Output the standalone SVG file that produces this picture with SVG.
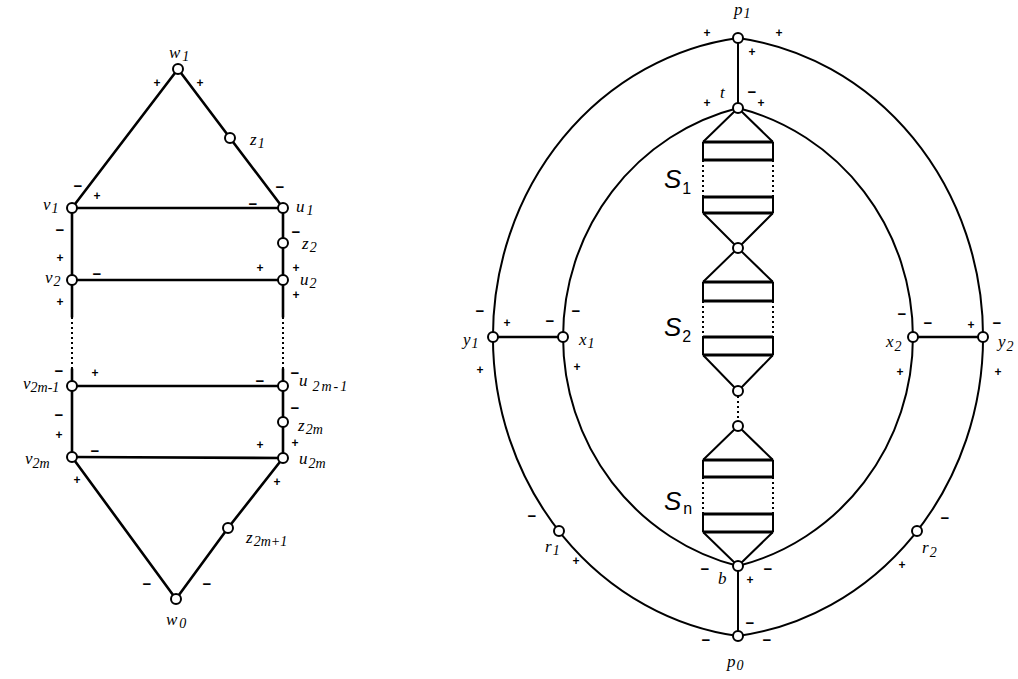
<svg xmlns="http://www.w3.org/2000/svg" width="1018" height="679" viewBox="0 0 1018 679">
<style>
.e{stroke:#000;stroke-width:2.6;fill:none;stroke-linecap:round}
.er{stroke:#000;stroke-width:2;fill:none}
.hb{stroke:#000;stroke-width:2.8;fill:none}
.dt{stroke:#000;stroke-width:2;fill:none;stroke-dasharray:2 3}
.n{fill:#fff;stroke:#000;stroke-width:2}
.l{font-family:"Liberation Serif",serif;font-style:italic;font-size:17px;fill:#000}
.sb{font-size:14px}
.S{font-family:"Liberation Sans",sans-serif;font-style:italic;font-size:26px;fill:#000}
.Ss{font-size:16px;font-style:normal}
.p{font-family:"Liberation Sans",sans-serif;font-weight:bold;font-size:12px;text-anchor:middle;dominant-baseline:central;fill:#000}
.m{font-family:"Liberation Sans",sans-serif;font-weight:bold;font-size:15px;text-anchor:middle;dominant-baseline:central;fill:#000}
</style>
<rect width="1018" height="679" fill="#fff"/>
<g id="connectors">
<path class="e" d="M178,69 L72,208"/>
<path class="e" d="M178,69 L230,138 L283,208"/>
<path class="e" d="M72,208 L283,208"/>
<path class="e" d="M72,208 L72,280"/>
<path class="e" d="M283,208 L283,280"/>
<path class="e" d="M72,280 L283,280"/>
<path class="e" d="M72,280 L72,317 M72,369 L72,386"/>
<path class="dt" d="M72,317 L72,369"/>
<path class="e" d="M283,280 L283,317 M283,369 L283,386"/>
<path class="dt" d="M283,317 L283,369"/>
<path class="e" d="M72,386 L283,386"/>
<path class="e" d="M72,386 L72,457"/>
<path class="e" d="M283,386 L283,458"/>
<path class="e" d="M72,457 L283,458"/>
<path class="e" d="M72,457 L176,599"/>
<path class="e" d="M283,458 L228,528 L176,599"/>
<path class="er" d="M738,38 A281.2,301.5 0 0 0 738,636"/>
<path class="er" d="M738,38 A281.2,301.5 0 0 1 738,636"/>
<path class="er" d="M738,108 A230.2,235.9 0 0 0 738,566"/>
<path class="er" d="M738,108 A230.2,235.9 0 0 1 738,566"/>
<path class="er" d="M738,38 L738,108"/>
<path class="er" d="M738,566 L738,636"/>
<path class="e" d="M493,337 L563,337"/>
<path class="e" d="M913,337 L983,337"/>
<path class="dt" d="M738,391 L738,426"/>
</g>
<g id="S1">
<path class="er" d="M738,108 L703,142 M738,108 L773,142 M703,213 L738,248 M773,213 L738,248"/>
<path class="hb" d="M703,142 H773 M703,160 H773 M703,197 H773 M703,213 H773"/>
<path class="er" d="M703,142 V160 M773,142 V160 M703,197 V213 M773,197 V213"/>
<path class="dt" d="M703,160 V197 M773,160 V197"/>
<text class="S" x="664" y="188">S<tspan class="Ss" dx="1" dy="6">1</tspan></text>
</g>
<g id="S2">
<path class="er" d="M738,248 L703,282 M738,248 L773,282 M703,355 L738,391 M773,355 L738,391"/>
<path class="hb" d="M703,282 H773 M703,301 H773 M703,337 H773 M703,355 H773"/>
<path class="er" d="M703,282 V301 M773,282 V301 M703,337 V355 M773,337 V355"/>
<path class="dt" d="M703,301 V337 M773,301 V337"/>
<text class="S" x="664" y="336">S<tspan class="Ss" dx="1" dy="6">2</tspan></text>
</g>
<g id="Sn">
<path class="er" d="M738,426 L703,460 M738,426 L773,460 M703,532 L738,566 M773,532 L738,566"/>
<path class="hb" d="M703,460 H773 M703,477 H773 M703,514 H773 M703,532 H773"/>
<path class="er" d="M703,460 V477 M773,460 V477 M703,514 V532 M773,514 V532"/>
<path class="dt" d="M703,477 V514 M773,477 V514"/>
<text class="S" x="664" y="510">S<tspan class="Ss" dx="2" dy="4" font-style="italic">n</tspan></text>
</g>
<g id="w1"><circle class="n" cx="178" cy="69" r="5"/><text class="l" x="169" y="58">w<tspan class="sb" dx="2" dy="3">1</tspan></text></g>
<g id="z1"><circle class="n" cx="230" cy="138" r="5"/><text class="l" x="250" y="145">z<tspan class="sb" dx="1" dy="3">1</tspan></text></g>
<g id="v1"><circle class="n" cx="72" cy="208" r="5"/><text class="l" x="43" y="210">v<tspan class="sb" dx="1" dy="3">1</tspan></text></g>
<g id="u1"><circle class="n" cx="283" cy="208" r="5"/><text class="l" x="296" y="212">u<tspan class="sb" dx="2" dy="3">1</tspan></text></g>
<g id="z2"><circle class="n" cx="283" cy="243" r="5"/><text class="l" x="302" y="249">z<tspan class="sb" dx="1" dy="3">2</tspan></text></g>
<g id="v2"><circle class="n" cx="72" cy="280" r="5"/><text class="l" x="45" y="283">v<tspan class="sb" dx="1" dy="3">2</tspan></text></g>
<g id="u2"><circle class="n" cx="283" cy="280" r="5"/><text class="l" x="300" y="285">u<tspan class="sb" dx="1" dy="3">2</tspan></text></g>
<g id="v2m-1"><circle class="n" cx="72" cy="386" r="5"/><text class="l" x="23" y="389">v<tspan class="sb" dx="0" dy="3">2m-1</tspan></text></g>
<g id="u2m-1"><circle class="n" cx="283" cy="386" r="5"/><text class="l" x="299" y="386">u<tspan class="sb" dx="5" dy="5" letter-spacing="2">2m-1</tspan></text></g>
<g id="z2m"><circle class="n" cx="283" cy="422" r="5"/><text class="l" x="298" y="431">z<tspan class="sb" dx="1" dy="3">2m</tspan></text></g>
<g id="v2m"><circle class="n" cx="72" cy="457" r="5"/><text class="l" x="25" y="464">v<tspan class="sb" dx="0" dy="4">2m</tspan></text></g>
<g id="u2m"><circle class="n" cx="283" cy="458" r="5"/><text class="l" x="299" y="464">u<tspan class="sb" dx="1" dy="4">2m</tspan></text></g>
<g id="z2m+1"><circle class="n" cx="228" cy="528" r="5"/><text class="l" x="246" y="543">z<tspan class="sb" dx="1" dy="3">2m+1</tspan></text></g>
<g id="w0"><circle class="n" cx="176" cy="599" r="5"/><text class="l" x="166" y="625">w<tspan class="sb" dx="2" dy="3">0</tspan></text></g>
<g id="p1"><circle class="n" cx="738" cy="38" r="5"/><text class="l" x="734" y="15">p<tspan class="sb" dx="1" dy="3">1</tspan></text></g>
<g id="t"><circle class="n" cx="738" cy="108" r="5"/><text class="l" x="720" y="98">t</text></g>
<g id="y1"><circle class="n" cx="493" cy="337" r="5"/><text class="l" x="463" y="345">y<tspan class="sb" dx="1" dy="3">1</tspan></text></g>
<g id="x1"><circle class="n" cx="563" cy="337" r="5"/><text class="l" x="579" y="345">x<tspan class="sb" dx="1" dy="3">1</tspan></text></g>
<g id="x2"><circle class="n" cx="913" cy="337" r="5"/><text class="l" x="886" y="347">x<tspan class="sb" dx="1" dy="4">2</tspan></text></g>
<g id="y2"><circle class="n" cx="983" cy="337" r="5"/><text class="l" x="998" y="347">y<tspan class="sb" dx="1" dy="4">2</tspan></text></g>
<g id="r1"><circle class="n" cx="559" cy="531" r="5"/><text class="l" x="545" y="552">r<tspan class="sb" dx="1" dy="3">1</tspan></text></g>
<g id="r2"><circle class="n" cx="917" cy="531" r="5"/><text class="l" x="922" y="553">r<tspan class="sb" dx="1" dy="4">2</tspan></text></g>
<g id="s12"><circle class="n" cx="738" cy="248" r="5"/></g>
<g id="s2end"><circle class="n" cx="738" cy="391" r="5"/></g>
<g id="snstart"><circle class="n" cx="738" cy="426" r="5"/></g>
<g id="b"><circle class="n" cx="738" cy="566" r="5"/><text class="l" x="718" y="584">b</text></g>
<g id="p0"><circle class="n" cx="738" cy="636" r="5"/><text class="l" x="727" y="667">p<tspan class="sb" dx="1" dy="3">0</tspan></text></g>
<g id="signs">
<text class="p" x="157" y="83">+</text><text class="p" x="200" y="83">+</text>
<text class="p" x="97" y="196">+</text><text class="p" x="60" y="258">+</text>
<text class="p" x="60" y="302">+</text><text class="p" x="260" y="268">+</text>
<text class="p" x="296" y="268">+</text><text class="p" x="296" y="295">+</text>
<text class="p" x="95" y="373">+</text><text class="p" x="59" y="435">+</text>
<text class="p" x="260" y="445">+</text><text class="p" x="295" y="443">+</text>
<text class="p" x="77" y="480">+</text><text class="p" x="277" y="482">+</text>
<text class="m" x="78" y="185">−</text><text class="m" x="280" y="186">−</text>
<text class="m" x="253" y="203">−</text><text class="m" x="60" y="229">−</text>
<text class="m" x="296" y="231">−</text><text class="m" x="97" y="273">−</text>
<text class="m" x="59" y="370">−</text><text class="m" x="295" y="372">−</text>
<text class="m" x="260" y="380">−</text><text class="m" x="59" y="414">−</text>
<text class="m" x="295" y="407">−</text><text class="m" x="95" y="450">−</text>
<text class="m" x="147" y="583">−</text><text class="m" x="207" y="583">−</text>
<text class="p" x="707" y="33">+</text><text class="p" x="779" y="33">+</text>
<text class="p" x="752" y="52">+</text><text class="p" x="707" y="103">+</text>
<text class="p" x="761" y="103">+</text><text class="p" x="507" y="323">+</text>
<text class="p" x="480" y="370">+</text><text class="p" x="577" y="367">+</text>
<text class="p" x="971" y="325">+</text><text class="p" x="900" y="372">+</text>
<text class="p" x="998" y="372">+</text><text class="p" x="576" y="561">+</text>
<text class="p" x="902" y="565">+</text><text class="p" x="750" y="580">+</text>
<text class="m" x="752" y="91">−</text><text class="m" x="480" y="310">−</text>
<text class="m" x="550" y="320">−</text><text class="m" x="576" y="310">−</text>
<text class="m" x="902" y="313">−</text><text class="m" x="928" y="322">−</text>
<text class="m" x="997" y="322">−</text><text class="m" x="532" y="515">−</text>
<text class="m" x="945" y="517">−</text><text class="m" x="705" y="568">−</text>
<text class="m" x="768" y="568">−</text><text class="m" x="750" y="622">−</text>
<text class="m" x="706" y="639">−</text><text class="m" x="767" y="639">−</text>
</g>
</svg>
